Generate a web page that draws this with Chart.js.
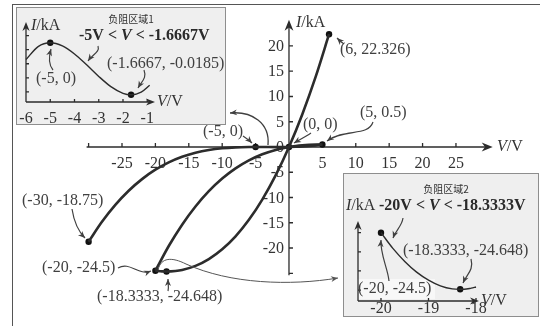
<!DOCTYPE html>
<html>
<head>
<meta charset="utf-8">
<script src="https://cdn.jsdelivr.net/npm/chart.js@4.4.1/dist/chart.umd.min.js"></script>
<style>
  body { margin: 0; background: #fff; }
  #wrap { position: relative; width: 540px; height: 326px; overflow: hidden; }
  #wrap canvas { position: absolute; left: 0; top: 0; }
  #frame { position: absolute; left: 12px; top: 4px; width: 700px; height: 500px;
           border-top: 1.5px solid #555; border-left: 1.5px solid #555; }
  .inset { position: absolute; background: #efefef; border: 1px solid #8e8e8e; box-sizing: border-box; }
</style>
</head>
<body>
<div id="wrap">
  <canvas id="main" width="540" height="326"></canvas>
  <div id="frame"></div>
  <div class="inset" style="left:16px;top:7px;width:210px;height:118px;">
    <canvas id="zoomOne" width="210" height="118"></canvas>
  </div>
  <div class="inset" style="left:343px;top:173px;width:196px;height:144px;">
    <canvas id="zoomTwo" width="196" height="144"></canvas>
  </div>
</div>
<script>
// I-V curves (V in volts, I in kA)
const curveOneV = [-30, -28, -26, -24, -22, -20, -18, -16, -14, -12, -10, -8, -6, -5, -4, -3, -1.6667, -1, 0, 1, 2, 3, 4, 5];
const curveOneI = [-18.75, -14.812, -11.466, -8.664, -6.358, -4.5, -3.042, -1.936, -1.134, -0.588, -0.25, -0.072, -0.006, 0, -0.004, -0.012, -0.0185, -0.016, 0, 0.036, 0.098, 0.192, 0.324, 0.5];

const curveTwoV = [-20, -19, -18.3333, -17, -16, -14, -12, -10, -8, -6, -4, -2, 0, 2, 4, 6];
const curveTwoI = [-24.5, -24.624, -24.648, -24.548, -24.336, -23.534, -22.188, -20.25, -17.672, -14.406, -10.404, -5.618, 0, 6.498, 13.924, 22.326];

const curveThreeV = [-20, -18, -16, -14, -12, -10, -8, -6, -4, -2, 0, 1, 2, 3, 4, 5];
const curveThreeI = [-24.5, -19.602, -15.376, -11.774, -8.748, -6.25, -4.232, -2.646, -1.444, -0.578, 0, 0.196, 0.338, 0.432, 0.484, 0.5];

const markedV = [6, 5, 0, -5, -30, -20, -18.3333];
const markedI = [22.326, 0.5, 0, 0, -18.75, -24.5, -24.648];

const xTickMarks = [-30, -25, -20, -15, -10, -5, 5, 10, 15, 20, 25];
const xTickLabels = [-25, -20, -15, -10, -5, 5, 10, 15, 20, 25];
const yTickMarks = [-25, -20, -15, -10, -5, 5, 10, 15, 20];
const yTickLabels = [20, 15, 10, 5, 0, -5, -10, -15, -20];

// negative resistance region 1
const zoomOneV = [-6, -5.5, -5, -4.5, -4, -3.5, -3, -2.5, -2, -1.6667, -1.25, -0.9];
const zoomOneI = [-0.006, -0.001375, 0, -0.001125, -0.004, -0.007875, -0.012, -0.015625, -0.018, -0.018519, -0.017578, -0.015129];
const zoomOneMarkedV = [-5, -1.6667];
const zoomOneMarkedI = [0, -0.0185];
const zoomOneXTicks = [-6, -5, -4, -3, -2, -1];
const zoomOneYMarks = [0.0025, -0.0025, -0.0075, -0.0125, -0.0175];

// negative resistance region 2
const zoomTwoV = [-20, -19.75, -19.5, -19.25, -19, -18.75, -18.5, -18.3333, -18.25, -18.1, -18];
const zoomTwoI = [-24.5, -24.541, -24.575, -24.603, -24.624, -24.639, -24.647, -24.648, -24.648, -24.645, -24.642];
const zoomTwoMarkedV = [-20, -18.3333];
const zoomTwoMarkedI = [-24.5, -24.648];
const zoomTwoXTicks = [-20, -19, -18];
const zoomTwoYMarks = [-24.5, -24.55, -24.6, -24.65];

const serif = "'Liberation Serif', 'Times New Roman', serif";
const ink = '#2c2c2c';
const noteInk = '#404040';

function line(vs, is, width) {
  return {
    data: vs.map((v, k) => ({ x: v, y: is[k] })),
    showLine: true,
    pointRadius: 0,
    borderColor: ink,
    borderWidth: width,
    cubicInterpolationMode: 'monotone',
    clip: false
  };
}

function dots(vs, is) {
  return {
    data: vs.map((v, k) => ({ x: v, y: is[k] })),
    showLine: false,
    pointRadius: 3.2,
    pointBackgroundColor: '#111',
    pointBorderColor: '#111',
    pointBorderWidth: 0,
    clip: false
  };
}

function head(ctx, x, y, ang, len, half) {
  ctx.save();
  ctx.translate(x, y);
  ctx.rotate(ang);
  ctx.beginPath();
  ctx.moveTo(0, 0);
  ctx.lineTo(-len, -half);
  ctx.lineTo(-len * 0.7, 0);
  ctx.lineTo(-len, half);
  ctx.closePath();
  ctx.fill();
  ctx.restore();
}

// cubic pointer: [x0, y0, c1x, c1y, c2x, c2y, x1, y1]
function pointer(ctx, p, w) {
  ctx.save();
  ctx.strokeStyle = noteInk;
  ctx.fillStyle = noteInk;
  ctx.lineWidth = w || 1.2;
  ctx.beginPath();
  ctx.moveTo(p[0], p[1]);
  ctx.bezierCurveTo(p[2], p[3], p[4], p[5], p[6], p[7]);
  ctx.stroke();
  head(ctx, p[6], p[7], Math.atan2(p[7] - p[5], p[6] - p[4]), 7, 3);
  ctx.restore();
}

function rich(ctx, parts, x, y) {
  let cx = x;
  parts.forEach(([t, f]) => {
    ctx.font = f;
    ctx.fillText(t, cx, y);
    cx += ctx.measureText(t).width;
  });
}

function note(ctx, text, x, y) {
  ctx.save();
  ctx.fillStyle = noteInk;
  ctx.font = '16px ' + serif;
  ctx.textAlign = 'left';
  ctx.textBaseline = 'middle';
  ctx.fillText(text, x, y);
  ctx.restore();
}

function drawAxes(chart, cfg) {
  const { ctx, chartArea: a, scales: { x, y } } = chart;
  const ox = x.getPixelForValue(cfg.crossV);
  const oy = y.getPixelForValue(cfg.crossI);
  ctx.save();
  ctx.strokeStyle = ink;
  ctx.fillStyle = ink;
  ctx.lineWidth = 1.3;
  ctx.beginPath();
  ctx.moveTo(a.left, oy);
  ctx.lineTo(a.right - 5, oy);
  ctx.moveTo(ox, a.bottom);
  ctx.lineTo(ox, a.top + 5);
  cfg.xMarks.forEach(v => {
    const px = x.getPixelForValue(v);
    ctx.moveTo(px, oy);
    ctx.lineTo(px, oy - cfg.tick);
  });
  cfg.yMarks.forEach(i => {
    const py = y.getPixelForValue(i);
    ctx.moveTo(ox, py);
    ctx.lineTo(ox + cfg.tick, py);
  });
  ctx.stroke();
  head(ctx, a.right, oy, 0, cfg.arrow, cfg.arrow * 0.4);
  head(ctx, ox, a.top, -Math.PI / 2, cfg.arrow, cfg.arrow * 0.4);

  ctx.fillStyle = '#333';
  ctx.font = '16px ' + serif;
  ctx.textBaseline = 'alphabetic';
  ctx.textAlign = 'center';
  cfg.xLabels.forEach(v => ctx.fillText(String(v), x.getPixelForValue(v), oy + cfg.xGap));
  ctx.textAlign = 'right';
  (cfg.yLabels || []).forEach(i => ctx.fillText(String(i), ox - 5, y.getPixelForValue(i) + 5));

  // axis titles
  ctx.textAlign = 'left';
  ctx.textBaseline = 'middle';
  rich(ctx, [['I', 'italic 16px ' + serif], ['/kA', '16px ' + serif]], cfg.iTitle[0], cfg.iTitle[1]);
  rich(ctx, [['V', 'italic 16px ' + serif], ['/V', '16px ' + serif]], cfg.vTitle[0], cfg.vTitle[1]);
  ctx.restore();
}

const mainDecor = {
  id: 'mainDecor',
  beforeDatasetsDraw(chart) {
    drawAxes(chart, {
      crossV: 0, crossI: 0, tick: 4, arrow: 11, xGap: 21,
      xMarks: xTickMarks, yMarks: yTickMarks,
      xLabels: xTickLabels, yLabels: yTickLabels,
      iTitle: [296, 23], vTitle: [497, 147]
    });
  },
  afterDatasetsDraw(chart) {
    const ctx = chart.ctx;
    note(ctx, '(6, 22.326)', 340, 50);
    note(ctx, '(5, 0.5)', 360, 113);
    note(ctx, '(0, 0)', 303, 125);
    note(ctx, '(-5, 0)', 203, 132);
    note(ctx, '(-30, -18.75)', 22, 201);
    note(ctx, '(-20, -24.5)', 42, 268);
    note(ctx, '(-18.3333, -24.648)', 97, 297);

    pointer(ctx, [344, 44, 341, 42, 339, 40, 337, 38]);
    pointer(ctx, [373, 122, 368, 137, 345, 128, 327, 141]);
    pointer(ctx, [311, 133, 305, 137, 299, 140, 294, 143]);
    pointer(ctx, [243, 136, 246, 138, 249, 140, 252, 143]);
    pointer(ctx, [268, 145, 270, 123, 252, 111, 230, 113], 1.3);
    pointer(ctx, [72, 209, 74, 222, 78, 231, 85, 238]);
    pointer(ctx, [118, 268, 130, 261, 138, 276, 151, 271]);
    pointer(ctx, [168, 291, 169, 287, 168, 284, 168, 279]);

    // link from the second region to its close-up
    ctx.save();
    ctx.strokeStyle = '#555';
    ctx.fillStyle = '#555';
    ctx.lineWidth = 1;
    ctx.beginPath();
    ctx.moveTo(158, 270);
    ctx.bezierCurveTo(161, 257, 172, 257, 186, 264);
    ctx.bezierCurveTo(230, 284, 290, 286, 338, 278);
    ctx.stroke();
    head(ctx, 338, 278, Math.atan2(-8, 48), 7, 3);
    ctx.restore();
  }
};

const zoomOneDecor = {
  id: 'zoomOneDecor',
  beforeDatasetsDraw(chart) {
    drawAxes(chart, {
      crossV: -6, crossI: chart.scales.y.min, tick: 3, arrow: 9, xGap: 21,
      xMarks: [-5, -4, -3, -2, -1], yMarks: zoomOneYMarks,
      xLabels: zoomOneXTicks,
      iTitle: [14, 18], vTitle: [140, 94]
    });
  },
  afterDatasetsDraw(chart) {
    const ctx = chart.ctx;
    ctx.save();
    ctx.fillStyle = '#333';
    ctx.font = "10px 'Noto Sans CJK SC'";
    ctx.textAlign = 'center';
    ctx.textBaseline = 'middle';
    ctx.fillText('负阻区域1', 114, 11);
    ctx.textAlign = 'left';
    ctx.fillStyle = '#2a2a2a';
    rich(ctx, [['-5V < ', 'bold 16px ' + serif], ['V', 'bold italic 16px ' + serif], [' < -1.6667V', 'bold 16px ' + serif]], 62, 28);
    ctx.restore();
    note(ctx, '(-5, 0)', 19, 71);
    note(ctx, '(-1.6667, -0.0185)', 90, 56);
    pointer(ctx, [36, 62, 31, 56, 32, 48, 34, 41]);
    pointer(ctx, [127, 62, 130, 70, 125, 73, 121, 80]);
    pointer(ctx, [81, 38, 83, 44, 76, 46, 71, 53]);
  }
};

const zoomTwoDecor = {
  id: 'zoomTwoDecor',
  beforeDatasetsDraw(chart) {
    const ctx = chart.ctx;
    ctx.save();
    ctx.fillStyle = 'rgba(255,255,255,0.55)';
    ctx.fillRect(13, 105, 78, 20);
    ctx.restore();
    drawAxes(chart, {
      crossV: chart.scales.x.min, crossI: chart.scales.y.min, tick: 3, arrow: 9, xGap: 12,
      xMarks: zoomTwoXTicks, yMarks: zoomTwoYMarks,
      xLabels: zoomTwoXTicks,
      iTitle: [2, 32], vTitle: [137, 127]
    });
  },
  afterDatasetsDraw(chart) {
    const ctx = chart.ctx;
    ctx.save();
    ctx.fillStyle = '#333';
    ctx.font = "10px 'Noto Sans CJK SC'";
    ctx.textAlign = 'center';
    ctx.textBaseline = 'middle';
    ctx.fillText('负阻区域2', 102, 15);
    ctx.textAlign = 'left';
    ctx.fillStyle = '#2a2a2a';
    rich(ctx, [['-20V < ', 'bold 16px ' + serif], ['V', 'bold italic 16px ' + serif], [' < -18.3333V', 'bold 16px ' + serif]], 35, 32);
    ctx.restore();
    note(ctx, '(-18.3333, -24.648)', 59, 77);
    note(ctx, '(-20, -24.5)', 14, 115);
    pointer(ctx, [59, 44, 58, 52, 52, 56, 49, 64]);
    pointer(ctx, [45, 107, 44, 95, 36, 80, 37, 66]);
    pointer(ctx, [127, 85, 130, 96, 123, 100, 119, 109]);
  }
};

function baseOptions(padding, xr, yr) {
  return {
    responsive: false,
    animation: false,
    events: [],
    devicePixelRatio: 1,
    layout: { padding: padding },
    scales: {
      x: { type: 'linear', min: xr[0], max: xr[1], display: false },
      y: { type: 'linear', min: yr[0], max: yr[1], display: false }
    },
    plugins: { legend: { display: false }, tooltip: { enabled: false } }
  };
}

new Chart(document.getElementById('main'), {
  type: 'scatter',
  data: {
    datasets: [
      line(curveOneV, curveOneI, 2.6),
      line(curveTwoV, curveTwoI, 2.6),
      line(curveThreeV, curveThreeI, 2.6),
      dots(markedV, markedI)
    ]
  },
  options: baseOptions({ left: 86.6, right: 47.3, top: 19.7, bottom: 50.7 }, [-30.3, 30.5], [-25.4, 25.2]),
  plugins: [mainDecor]
});

new Chart(document.getElementById('zoomOne'), {
  type: 'scatter',
  data: { datasets: [line(zoomOneV, zoomOneI, 1.4), dots(zoomOneMarkedV, zoomOneMarkedI)] },
  options: baseOptions({ left: 9, right: 72, top: 14, bottom: 24 }, [-6, -0.68], [-0.0211, 0.00736]),
  plugins: [zoomOneDecor]
});

new Chart(document.getElementById('zoomTwo'), {
  type: 'scatter',
  data: { datasets: [line(zoomTwoV, zoomTwoI, 1.4), dots(zoomTwoMarkedV, zoomTwoMarkedI)] },
  options: baseOptions({ left: 14, right: 61, top: 47, bottom: 17 }, [-20.484, -17.937], [-24.6786, -24.4694]),
  plugins: [zoomTwoDecor]
});
</script>
</body>
</html>
